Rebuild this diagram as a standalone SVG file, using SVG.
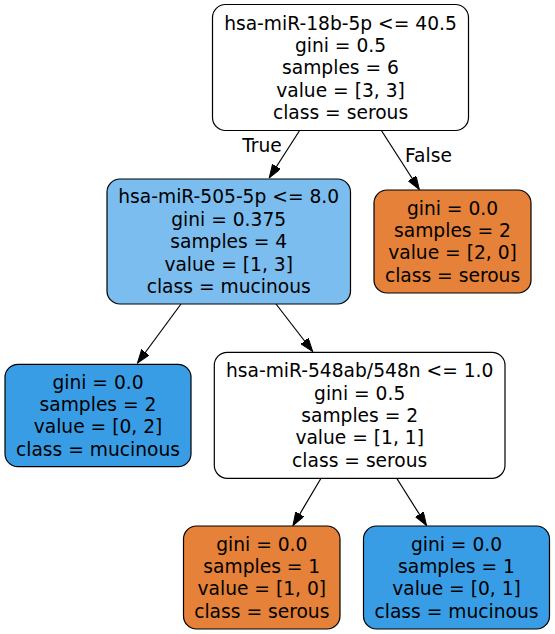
<svg xmlns="http://www.w3.org/2000/svg" width="555" height="634" viewBox="0 0 555 634">
<style>
.n rect{stroke:#000;stroke-width:1.2}
.w{fill:#ffffff}
.b{fill:#399de5}
.lb{fill:#7bbdee}
.o{fill:#e58139}
text{font-family:"DejaVu Sans","Liberation Sans",sans-serif;font-size:18.67px;fill:#000;text-anchor:middle}
.e line{stroke:#000;stroke-width:1.2;fill:none;marker-end:url(#ah)}
</style>
<defs>
<marker id="ah" markerUnits="userSpaceOnUse" markerWidth="14" markerHeight="10" refX="13.3" refY="4.67" orient="auto">
<path d="M0,0 L13.3,4.67 L0,9.33 z" fill="#000" stroke="#000" stroke-width="1"/>
</marker>
</defs>
<rect width="555" height="634" fill="#fff"/>
<g id="edges" class="e">
<line x1="299.3" y1="131" x2="269.3" y2="177.7"/>
<line x1="381.7" y1="131" x2="419.3" y2="189.5"/>
<line x1="181" y1="304" x2="137.5" y2="363"/>
<line x1="276" y1="304" x2="312.7" y2="351.5"/>
<line x1="321" y1="478.3" x2="293" y2="525.5"/>
<line x1="396.7" y1="478.3" x2="426.5" y2="525.5"/>
<text x="262" y="151.7">True</text>
<text x="428.5" y="161.5">False</text>
</g>
<g id="node0" class="n">
<rect class="w" x="212.5" y="4.5" width="256" height="126" rx="13"/>
<text x="340.5" y="29.6">hsa-miR-18b-5p &lt;= 40.5</text>
<text x="340.5" y="52">gini = 0.5</text>
<text x="340.5" y="74.4">samples = 6</text>
<text x="340.5" y="96.8">value = [3, 3]</text>
<text x="340.5" y="119.2">class = serous</text>
</g>
<g id="node1" class="n">
<rect class="lb" x="107" y="179" width="243.5" height="125" rx="13"/>
<text x="228.7" y="203.4">hsa-miR-505-5p &lt;= 8.0</text>
<text x="228.7" y="225.8">gini = 0.375</text>
<text x="228.7" y="248.2">samples = 4</text>
<text x="228.7" y="270.6">value = [1, 3]</text>
<text x="228.7" y="293">class = mucinous</text>
</g>
<g id="node2" class="n">
<rect class="o" x="374" y="190" width="157" height="103" rx="13"/>
<text x="452.5" y="214.6">gini = 0.0</text>
<text x="452.5" y="237">samples = 2</text>
<text x="452.5" y="259.4">value = [2, 0]</text>
<text x="452.5" y="281.8">class = serous</text>
</g>
<g id="node3" class="n">
<rect class="b" x="5" y="364.3" width="186" height="102.4" rx="13"/>
<text x="98" y="388.6">gini = 0.0</text>
<text x="98" y="411">samples = 2</text>
<text x="98" y="433.4">value = [0, 2]</text>
<text x="98" y="455.8">class = mucinous</text>
</g>
<g id="node4" class="n">
<rect class="w" x="214.3" y="352.3" width="290.7" height="126" rx="13"/>
<text x="359.7" y="377.2">hsa-miR-548ab/548n &lt;= 1.0</text>
<text x="359.7" y="399.6">gini = 0.5</text>
<text x="359.7" y="422">samples = 2</text>
<text x="359.7" y="444.4">value = [1, 1]</text>
<text x="359.7" y="466.8">class = serous</text>
</g>
<g id="node5" class="n">
<rect class="o" x="183.5" y="526" width="156.5" height="103" rx="13"/>
<text x="261.8" y="550.6">gini = 0.0</text>
<text x="261.8" y="573">samples = 1</text>
<text x="261.8" y="595.4">value = [1, 0]</text>
<text x="261.8" y="617.8">class = serous</text>
</g>
<g id="node6" class="n">
<rect class="b" x="363.5" y="526" width="186" height="103" rx="13"/>
<text x="456.5" y="550.6">gini = 0.0</text>
<text x="456.5" y="573">samples = 1</text>
<text x="456.5" y="595.4">value = [0, 1]</text>
<text x="456.5" y="617.8">class = mucinous</text>
</g>
</svg>
